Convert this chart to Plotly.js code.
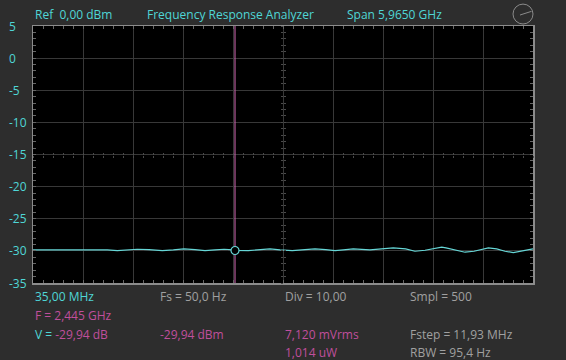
<!DOCTYPE html>
<html>
<head>
<meta charset="utf-8">
<script src="https://cdn.plot.ly/plotly-3.0.1.min.js"></script>
<style>
  html, body { margin: 0; padding: 0; background: #2d2d2d; }
  #chart { width: 566px; height: 360px; }
</style>
</head>
<body>
<div id="chart"></div>
<script>
// ---- data ----
const startGHz = 0.035;
const stopGHz = 6.0;
const freqGHz = [0.035, 0.079, 0.265, 0.516, 0.783, 0.922, 1.041, 1.160, 1.279, 1.419, 1.578, 1.709, 1.836, 1.968, 2.087, 2.206, 2.314, 2.425, 2.445, 2.604, 2.743, 2.862, 2.982, 3.128, 3.280, 3.399, 3.527, 3.638, 3.737, 3.856, 4.055, 4.202, 4.333, 4.481, 4.592, 4.712, 4.799, 4.870, 4.911, 4.962, 5.069, 5.189, 5.296, 5.376, 5.467, 5.567, 5.666, 5.765, 5.865, 5.952, 6.000];
const levelDb = [-29.85, -29.85, -29.75, -29.85, -29.75, -29.85, -29.95, -29.85, -29.75, -29.80, -29.95, -29.85, -29.70, -29.80, -29.95, -29.85, -29.75, -29.85, -29.94, -29.95, -29.85, -29.70, -29.85, -29.95, -29.80, -29.70, -29.80, -29.95, -29.85, -29.70, -29.85, -29.70, -29.54, -29.70, -30.06, -29.90, -29.70, -29.54, -29.42, -29.54, -29.90, -30.21, -30.06, -29.80, -29.54, -29.70, -30.06, -30.26, -30.06, -29.85, -29.70];
const markerF = [2.445];
const markerV = [-29.94];
const yTicks = [5, 0, -5, -10, -15, -20, -25, -30, -35];

const headerTexts = ["Ref  0,00 dBm", "Frequency Response Analyzer", "Span 5,9650 GHz"];

// ---- layout helpers (pixel -> paper) ----
const W = 566, H = 360;
const L = 33, R = 533, T = 25.5, B = 283.5;
const px = x => (x - L) / (R - L);
const py = y => (B - y) / (B - T);

const CYAN = '#4fd6d6';
const MAG = '#c04f9c';
const GRAY = '#a0a0a0';
const FONT = 'Open Sans, DejaVu Sans, sans-serif';

const xDiv = (stopGHz - startGHz) / 10;

const traces = [
  {
    x: freqGHz, y: levelDb, type: 'scatter', mode: 'lines',
    line: { color: '#66d6d6', width: 1.2 }, hoverinfo: 'skip'
  },
  {
    x: [markerF[0], markerF[0]], y: [-35, 5], type: 'scatter', mode: 'lines',
    line: { color: '#c462a8', width: 1.1 }, hoverinfo: 'skip'
  },
  {
    x: markerF, y: markerV, type: 'scatter', mode: 'markers',
    marker: { symbol: 'circle', size: 8, color: '#000', line: { color: '#66d6d6', width: 1.2 } },
    hoverinfo: 'skip'
  },
  // invisible traces to activate center-cross tick axes
  { x: [startGHz], y: [0], xaxis: 'x2', yaxis: 'y2', mode: 'markers', marker: { opacity: 0 }, hoverinfo: 'skip', type: 'scatter' },
  { x: [startGHz], y: [0], xaxis: 'x3', yaxis: 'y3', mode: 'markers', marker: { opacity: 0 }, hoverinfo: 'skip', type: 'scatter' }
];

const annotations = [];
yTicks.forEach(v => {
  annotations.push({
    xref: 'paper', yref: 'y', x: px(7), y: v, xanchor: 'left', yanchor: 'middle',
    text: String(v), showarrow: false, font: { family: FONT, size: 12, color: CYAN }
  });
});
const hdrX = [33, 145, 345];
headerTexts.forEach((t, i) => {
  annotations.push({
    xref: 'paper', yref: 'paper', x: px(hdrX[i]), y: py(14), xanchor: 'left', yanchor: 'middle',
    text: t, showarrow: false, font: { family: FONT, size: 12, color: CYAN }
  });
});
const bottom = [
  [33, 297, '35,00 MHz', CYAN],
  [158, 297, 'Fs = 50,0 Hz', GRAY],
  [283, 297, 'Div = 10,00', GRAY],
  [408, 297, 'Smpl = 500', GRAY],
  [33, 316, 'F = ' + markerF[0].toFixed(3).replace('.', ',') + ' GHz', MAG],
  [33, 335, '<span style="color:' + CYAN + '">V = </span>' + markerV[0].toFixed(2).replace('.', ',') + ' dB', MAG],
  [158, 335, markerV[0].toFixed(2).replace('.', ',') + ' dBm', MAG],
  [283, 335, '7,120 mVrms', MAG],
  [408, 335, 'Fstep = 11,93 MHz', GRAY],
  [283, 353, '1,014 uW', MAG],
  [408, 353, 'RBW = 95,4 Hz', GRAY]
];
bottom.forEach(b => {
  annotations.push({
    xref: 'paper', yref: 'paper', x: px(b[0]), y: py(b[1]), xanchor: 'left', yanchor: 'middle',
    text: b[2], showarrow: false, font: { family: FONT, size: 12, color: b[3] }
  });
});

const shapes = [
  // clock icon
  { type: 'circle', xref: 'paper', yref: 'paper', x0: px(513), x1: px(533), y0: py(3.5), y1: py(23.5),
    line: { color: '#8a8a8a', width: 1 } },
  { type: 'line', xref: 'paper', yref: 'paper', x0: px(523), y0: py(13.5), x1: px(531.5), y1: py(10.8),
    line: { color: '#8a8a8a', width: 1 } },
  { type: 'line', xref: 'paper', yref: 'paper', x0: px(523), y0: py(13.5), x1: px(520), y1: py(14.5),
    line: { color: '#8a8a8a', width: 1 } }
];

const gridCol = '#383838';
const borderCol = '#8c8c8c';

const layout = {
  width: W, height: H,
  margin: { l: L, r: W - R, t: T, b: H - B, pad: 0 },
  paper_bgcolor: '#2d2d2d',
  plot_bgcolor: '#000000',
  showlegend: false,
  xaxis: {
    range: [startGHz, stopGHz], tick0: startGHz, dtick: xDiv,
    showgrid: true, gridcolor: gridCol, gridwidth: 1,
    zeroline: false, showticklabels: false,
    showline: true, linecolor: borderCol, linewidth: 1.5, mirror: 'allticks',
    ticks: 'inside', ticklen: 3, tickcolor: '#666',
    minor: { dtick: xDiv / 5, tick0: startGHz, ticks: 'inside', ticklen: 3, tickcolor: '#666', showgrid: false },
    fixedrange: true
  },
  yaxis: {
    range: [-35, 5], tick0: -35, dtick: 5,
    showgrid: true, gridcolor: gridCol, gridwidth: 1,
    zeroline: false, showticklabels: false,
    showline: true, linecolor: borderCol, linewidth: 1.5, mirror: 'allticks',
    ticks: 'inside', ticklen: 3, tickcolor: '#666',
    minor: { dtick: 1, tick0: -35, ticks: 'inside', ticklen: 3, tickcolor: '#666', showgrid: false },
    fixedrange: true
  },
  // center cross tick axes (horizontal centre line at -15, vertical at mid frequency)
  xaxis2: {
    overlaying: 'x', anchor: 'free', position: 0.5, range: [startGHz, stopGHz],
    showgrid: false, zeroline: false, showticklabels: false, showline: false,
    ticks: 'outside', ticklen: 2, tickcolor: '#4a4a4a', tick0: startGHz, dtick: xDiv / 5
  },
  yaxis2: {
    overlaying: 'y', anchor: 'free', position: 0.5, range: [-35, 5],
    showgrid: false, zeroline: false, showticklabels: false, showline: false,
    ticks: 'outside', ticklen: 2, tickcolor: '#4a4a4a', tick0: -35, dtick: 1
  },
  xaxis3: {
    overlaying: 'x', anchor: 'free', position: 0.5, range: [startGHz, stopGHz],
    showgrid: false, zeroline: false, showticklabels: false, showline: false,
    ticks: 'inside', ticklen: 2, tickcolor: '#4a4a4a', tick0: startGHz, dtick: xDiv / 5
  },
  yaxis3: {
    overlaying: 'y', anchor: 'free', position: 0.5, range: [-35, 5],
    showgrid: false, zeroline: false, showticklabels: false, showline: false,
    ticks: 'inside', ticklen: 2, tickcolor: '#4a4a4a', tick0: -35, dtick: 1
  },
  annotations: annotations,
  shapes: shapes
};

Plotly.newPlot('chart', traces, layout, { staticPlot: true, displayModeBar: false });
</script>
</body>
</html>
